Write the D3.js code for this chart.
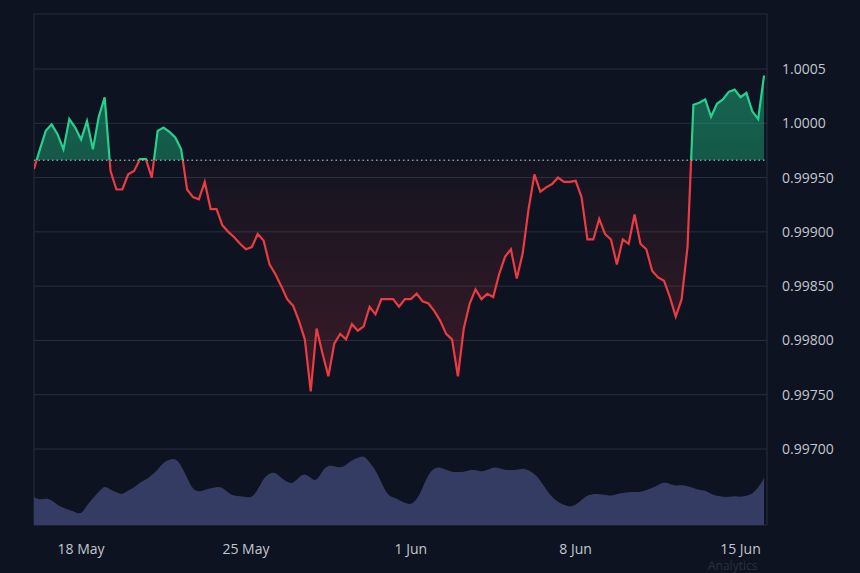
<!DOCTYPE html><html><head><meta charset="utf-8">
<script src="https://cdn.jsdelivr.net/npm/d3@7"></script>
<style>body{margin:0;background:#0d1320;}text{font-family:"Open Sans",sans-serif;}</style></head><body>
<svg id="c" width="860" height="573"></svg>
<script>
const startDate = "2024-05-16T00:00:00";
const endDate = "2024-06-16T03:00:00";
const stepHours = 6;
const baseline = 0.99966;
const yTicks = [0.997,0.9975,0.998,0.9985,0.999,0.9995,1.0,1.0005];
const xTickDates = ["2024-05-18","2024-05-25","2024-06-01","2024-06-08","2024-06-15"];
const prices = [0.99958,0.99976,0.99993,0.99999,0.99990,0.99976,1.00004,0.99996,0.99985,1.00002,0.99976,1.00006,1.00024,0.99956,0.99939,0.99939,0.99953,0.99956,0.99967,0.99967,0.99950,0.99993,0.99996,0.99992,0.99987,0.99976,0.99939,0.99932,0.99930,0.99946,0.99921,0.99921,0.99906,0.99900,0.99895,0.99889,0.99884,0.99886,0.99898,0.99892,0.99870,0.99861,0.99850,0.99838,0.99832,0.99818,0.99801,0.99753,0.99811,0.99788,0.99767,0.99797,0.99806,0.99801,0.99815,0.99809,0.99813,0.99831,0.99824,0.99838,0.99838,0.99838,0.99831,0.99838,0.99838,0.99843,0.99836,0.99834,0.99827,0.99818,0.99806,0.99801,0.99767,0.99811,0.99834,0.99847,0.99838,0.99843,0.99840,0.99861,0.99877,0.99884,0.99857,0.99880,0.99921,0.99953,0.99937,0.99941,0.99944,0.99950,0.99946,0.99946,0.99947,0.99932,0.99893,0.99893,0.99912,0.99898,0.99893,0.99870,0.99893,0.99889,0.99916,0.99889,0.99884,0.99864,0.99858,0.99855,0.99840,0.99822,0.99838,0.99886,1.00017,1.00019,1.00022,1.00006,1.00018,1.00022,1.00029,1.00031,1.00024,1.00028,1.00011,1.00004,1.00044];
const volumes = [28,25,27,25,20,17,15,13,10,20,27,33,40,35,33,30,35,37,43,45,50,55,63,65,67,60,47,35,33,35,37,38,38,32,29,29,28,27,35,47,52,53,47,43,41,48,52,47,43,55,60,59,57,60,65,67,70,63,55,43,30,28,25,22,20,25,37,51,57,58,55,53,53,53,55,55,53,55,58,57,55,55,55,57,55,51,45,35,28,23,20,18,20,25,30,31,31,30,29,31,32,33,33,33,35,37,40,43,41,39,40,39,37,35,35,31,29,28,28,29,28,29,31,37,47];

const W=860,H=573,L=34,R=767,T=14,B=525;
const svg=d3.select("#c");
svg.append("rect").attr("width",W).attr("height",H).attr("fill","#0d1320");
const t0=new Date(startDate);
const data=prices.map((p,i)=>({t:new Date(+t0+i*stepHours*3600e3),p,v:volumes[i]}));
const x=d3.scaleTime().domain([t0,new Date(endDate)]).range([L,R]);
const y=d3.scaleLinear().range([B,69]);
y.domain([0.9970 - (B-449)/((449-69)/0.0035), 1.0005]);
const yv=d3.scaleLinear().domain([0,100]).range([B,B-100]);

const defs=svg.append("defs");
const gG=defs.append("linearGradient").attr("id","gG").attr("x1",0).attr("x2",0).attr("y1",0).attr("y2",1);
gG.append("stop").attr("offset","0%").attr("stop-color","#22c98a").attr("stop-opacity",0.45);
gG.append("stop").attr("offset","100%").attr("stop-color","#22c98a").attr("stop-opacity",0.2);
const gR=defs.append("linearGradient").attr("id","gR").attr("gradientUnits","userSpaceOnUse").attr("x1",0).attr("x2",0).attr("y1",y(baseline)).attr("y2",y(0.9975));
gR.append("stop").attr("offset","0%").attr("stop-color","#e0383e").attr("stop-opacity",0.03);
gR.append("stop").attr("offset","100%").attr("stop-color","#e0383e").attr("stop-opacity",0.22);
const by=y(baseline);
defs.append("clipPath").attr("id","above").append("rect").attr("x",L).attr("y",0).attr("width",R-L).attr("height",by);
defs.append("clipPath").attr("id","below").append("rect").attr("x",L).attr("y",by).attr("width",R-L).attr("height",H);

svg.append("g").selectAll("line").data(yTicks).join("line")
 .attr("x1",L).attr("x2",R).attr("y1",d=>y(d)).attr("y2",d=>y(d)).attr("stroke","#27303f").attr("stroke-width",1);
svg.append("rect").attr("x",L).attr("y",T).attr("width",R-L).attr("height",B-T).attr("fill","none").attr("stroke","#27303f");

svg.append("path").datum(data).attr("fill","#353c63")
 .attr("d",d3.area().x(d=>x(d.t)).y0(B).y1(d=>yv(d.v)).curve(d3.curveBasis));

const area=d3.area().x(d=>x(d.t)).y0(by).y1(d=>y(d.p));
svg.append("path").datum(data).attr("d",area).attr("fill","url(#gG)").attr("clip-path","url(#above)");
svg.append("path").datum(data).attr("d",area).attr("fill","url(#gR)").attr("clip-path","url(#below)");
const line=d3.line().x(d=>x(d.t)).y(d=>y(d.p));
svg.append("path").datum(data).attr("d",line).attr("fill","none").attr("stroke","#26d08f").attr("stroke-width",2.2).attr("clip-path","url(#above)");
svg.append("path").datum(data).attr("d",line).attr("fill","none").attr("stroke","#ec3b42").attr("stroke-width",2.2).attr("clip-path","url(#below)");
svg.append("line").attr("x1",L).attr("x2",R).attr("y1",by).attr("y2",by).attr("stroke","#c8ccd4").attr("stroke-dasharray","1.5,3").attr("stroke-width",1);

svg.append("g").selectAll("text").data(yTicks).join("text")
 .attr("x",R+15).attr("y",d=>y(d)+5).attr("fill","#c3c7cf").attr("font-size",14)
 .text(d=>d===1?"1.0000":d===1.0005?"1.0005":d.toFixed(5));
svg.append("g").selectAll("text").data(xTickDates).join("text")
 .attr("x",d=>x(new Date(d+"T00:00:00"))).attr("y",554).attr("text-anchor","middle").attr("fill","#c3c7cf").attr("font-size",14)
 .text(d=>d3.timeFormat("%-d %b")(new Date(d+"T00:00:00")));
svg.append("text").attr("x",708).attr("y",570).attr("fill","#2a3140").attr("font-size",12).text("Analytics");
</script></body></html>
